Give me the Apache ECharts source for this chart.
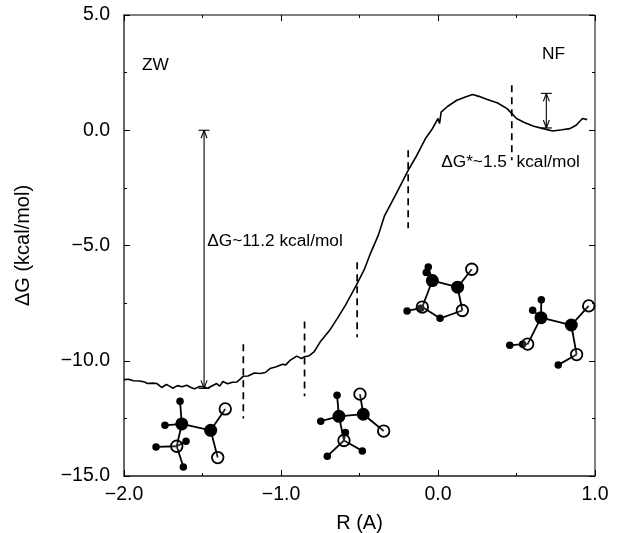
<!DOCTYPE html>
<html><head><meta charset="utf-8">
<script src="https://cdn.jsdelivr.net/npm/echarts@6/dist/echarts.min.js"></script>
<style>html,body{margin:0;padding:0;background:#fff}#c{width:621px;height:533px}</style>
</head><body><div id="c"></div>
<script>
const curveR = [-2.0,-1.97,-1.94,-1.9,-1.87,-1.85,-1.82,-1.79,-1.76,-1.73,-1.71,-1.69,-1.66,-1.63,-1.6,-1.57,-1.55,-1.52,-1.49,-1.47,-1.45,-1.41,-1.39,-1.37,-1.34,-1.31,-1.28,-1.26,-1.24,-1.21,-1.17,-1.13,-1.10,-1.07,-1.03,-0.99,-0.97,-0.94,-0.90,-0.87,-0.85,-0.82,-0.79,-0.75,-0.69,-0.64,-0.59,-0.52,-0.47,-0.43,-0.38,-0.34,-0.27,-0.19,-0.14,-0.08,-0.04,0.0,0.01,0.02,0.06,0.12,0.17,0.22,0.26,0.31,0.38,0.44,0.50,0.55,0.61,0.67,0.73,0.79,0.84,0.88,0.92,0.95];
const curveG = [-10.82,-10.8,-10.87,-10.88,-10.92,-10.99,-10.97,-10.99,-11.16,-11.03,-11.1,-11.19,-11.08,-11.13,-11.06,-11.17,-11.22,-11.12,-11.13,-11.2,-11.13,-10.99,-11.1,-10.9,-11.0,-10.93,-10.92,-10.8,-10.67,-10.66,-10.53,-10.55,-10.51,-10.34,-10.26,-10.15,-10.18,-9.97,-9.8,-9.9,-9.83,-9.78,-9.62,-9.18,-8.68,-8.15,-7.6,-6.72,-6.05,-5.34,-4.55,-3.7,-2.8,-1.74,-1.15,-0.36,0.02,0.51,0.29,0.79,1.03,1.3,1.43,1.55,1.47,1.34,1.18,0.94,0.51,0.34,0.17,0.07,-0.03,0.02,0.07,0.22,0.51,0.46];

const dashR = [-1.24,-0.85,-0.515,-0.19,0.47];
const dashTop = [-9.28,-8.3,-5.73,-0.87,1.95];
const dashBottom = [-12.5,-11.54,-8.98,-4.25,-1.3];

const arrowR = [-1.49,0.69];
const arrowTop = [0,1.6];
const arrowBottom = [-11.2,0.1];

const carbons = [[-1.632,-12.74],[-1.448,-13.02],[-0.631,-12.41],[-0.476,-12.32],[-0.036,-6.52],[0.125,-6.81],[0.656,-8.13],[0.849,-8.45]];
const oxyNitro = [[-1.355,-12.09],[-1.403,-14.2],[-1.664,-13.71],[-0.497,-11.45],[-0.346,-13.05],[-0.599,-13.46],[0.215,-6.03],[0.155,-7.82],[-0.1,-7.67],[0.96,-7.62],[0.883,-9.73],[0.571,-9.28]];
const hydrogens = [[-1.643,-11.76],[-1.739,-12.8],[-1.605,-13.49],[-1.796,-13.74],[-1.622,-14.61],[-0.643,-11.5],[-0.747,-12.62],[-0.59,-13.11],[-0.705,-14.14],[-0.482,-13.91],[-0.062,-5.93],[-0.075,-6.17],[-0.11,-7.72],[-0.197,-7.84],[0.013,-8.16],[0.658,-7.35],[0.603,-7.81],[0.539,-9.28],[0.457,-9.33],[0.766,-10.18]];
const bonds = [
 [carbons[0],carbons[1]],[carbons[1],oxyNitro[0]],[carbons[1],oxyNitro[1]],[carbons[0],hydrogens[0]],[carbons[0],hydrogens[1]],[carbons[0],oxyNitro[2]],[oxyNitro[2],hydrogens[2]],[oxyNitro[2],hydrogens[3]],[oxyNitro[2],hydrogens[4]],
 [carbons[2],carbons[3]],[carbons[3],oxyNitro[3]],[carbons[3],oxyNitro[4]],[carbons[2],hydrogens[5]],[carbons[2],hydrogens[6]],[carbons[2],oxyNitro[5]],[oxyNitro[5],hydrogens[7]],[oxyNitro[5],hydrogens[8]],[oxyNitro[5],hydrogens[9]],
 [carbons[4],carbons[5]],[carbons[5],oxyNitro[6]],[carbons[5],oxyNitro[7]],[carbons[4],hydrogens[10]],[carbons[4],hydrogens[11]],[carbons[4],oxyNitro[8]],[oxyNitro[8],hydrogens[12]],[hydrogens[12],hydrogens[13]],[oxyNitro[8],hydrogens[14]],[hydrogens[14],oxyNitro[7]],
 [carbons[6],carbons[7]],[carbons[7],oxyNitro[9]],[carbons[7],oxyNitro[10]],[carbons[6],hydrogens[15]],[carbons[6],hydrogens[16]],[carbons[6],oxyNitro[11]],[oxyNitro[11],hydrogens[17]],[hydrogens[17],hydrogens[18]],[oxyNitro[10],hydrogens[19]]
];

const noteText = ['ZW','NF','\u0394G~11.2 kcal/mol','\u0394G*~1.5  kcal/mol'];
const noteR = [-1.885,0.662,-1.47,0.02];
const noteG = [2.82,3.3,-4.8,-1.39];

const fmt = v => v.toFixed(1).replace('-', '\u2212');
const font = '"Liberation Sans", Arial, sans-serif';
const hiddenAxisBits = {axisLabel:{show:false},splitLine:{show:false},axisLine:{show:false,onZero:false}};
const tick = {show:true,inside:true,length:6,lineStyle:{color:'#000',width:1}};
const minor = {show:true,splitNumber:2,length:3,lineStyle:{color:'#000',width:1}};

function lineItem(p, a, b, style){
  return {type:'line',shape:{x1:a[0],y1:a[1],x2:b[0],y2:b[1]},style:style};
}
const series = [
 {type:'line',xAxisIndex:0,yAxisIndex:0,data:curveR.map((r,i)=>[r,curveG[i]]),showSymbol:false,symbol:'none',smooth:false,
  lineStyle:{color:'#000',width:1.6},z:3,silent:true},
 {type:'custom',xAxisIndex:0,yAxisIndex:0,coordinateSystem:'cartesian2d',data:dashR.map((r,i)=>[r,dashTop[i],dashBottom[i]]),z:3,silent:true,
  encode:{x:0,y:[1,2]},
  renderItem(p,api){
    const a=api.coord([api.value(0),api.value(1)]),b=api.coord([api.value(0),api.value(2)]);
    return lineItem(p,a,b,{stroke:'#000',lineWidth:1.7,lineDash:[7,5],fill:null});
  }},
 {type:'custom',xAxisIndex:0,yAxisIndex:0,coordinateSystem:'cartesian2d',data:arrowR.map((r,i)=>[r,arrowTop[i],arrowBottom[i]]),z:3,silent:true,
  encode:{x:0,y:[1,2]},
  renderItem(p,api){
    const a=api.coord([api.value(0),api.value(1)]),b=api.coord([api.value(0),api.value(2)]);
    const s={stroke:'#000',lineWidth:1.1,fill:null};
    const x=a[0];
    return {type:'group',children:[
      lineItem(p,a,b,s),
      lineItem(p,[x-5.5,a[1]],[x+5.5,a[1]],s),
      lineItem(p,[x-5.5,b[1]],[x+5.5,b[1]],s),
      lineItem(p,a,[x-3,a[1]+8],s),lineItem(p,a,[x+3,a[1]+8],s),
      lineItem(p,b,[x-3,b[1]-8],s),lineItem(p,b,[x+3,b[1]-8],s)
    ]};
  }},
 {type:'custom',xAxisIndex:0,yAxisIndex:0,coordinateSystem:'cartesian2d',data:bonds.map(b=>[b[0][0],b[0][1],b[1][0],b[1][1]]),z:4,silent:true,
  encode:{x:[0,2],y:[1,3]},
  renderItem(p,api){
    const a=api.coord([api.value(0),api.value(1)]),b=api.coord([api.value(2),api.value(3)]);
    return lineItem(p,a,b,{stroke:'#000',lineWidth:1.8,fill:null});
  }},
 {type:'scatter',xAxisIndex:0,yAxisIndex:0,data:carbons,symbolSize:13,itemStyle:{color:'#000',opacity:1},z:5,silent:true},
 {type:'scatter',xAxisIndex:0,yAxisIndex:0,data:hydrogens,symbolSize:7.5,itemStyle:{color:'#000',opacity:1},z:5,silent:true},
 {type:'scatter',xAxisIndex:0,yAxisIndex:0,data:oxyNitro,symbolSize:11.5,itemStyle:{color:'rgba(255,255,255,0.15)',borderColor:'#000',borderWidth:1.8,opacity:1},z:6,silent:true},
 {type:'scatter',xAxisIndex:0,yAxisIndex:0,data:noteText.map((t,i)=>({value:[noteR[i],noteG[i]],label:{formatter:t}})),symbolSize:0,z:7,silent:true,
  itemStyle:{opacity:1},
  label:{show:true,position:'right',distance:0,color:'#000',opacity:1,fontFamily:font,fontSize:17.3}}
];

const chart = echarts.init(document.getElementById('c'),null,{renderer:'canvas'});
chart.setOption({
 animation:false,
 backgroundColor:'#fff',
 grid:{left:124,top:15,width:471,height:461,outerBoundsMode:'none',containLabel:false,show:true,borderColor:'#000',borderWidth:1,backgroundColor:'transparent'},
 xAxis:[
  {type:'value',min:-2,max:1,interval:1,position:'bottom',name:'R (A)',nameLocation:'middle',nameGap:37,
   nameTextStyle:{fontFamily:font,fontSize:20,color:'#000'},
   axisLine:{show:true,onZero:false,lineStyle:{color:'#444',width:1.5}},
   axisTick:tick,minorTick:minor,splitLine:{show:false},
   axisLabel:{formatter:fmt,fontFamily:font,fontSize:19.5,color:'#000',margin:9,showMinLabel:true,showMaxLabel:true}},
  Object.assign({type:'value',min:-2,max:1,interval:1,position:'top',axisTick:tick,minorTick:minor},hiddenAxisBits)
 ],
 yAxis:[
  {type:'value',min:-15,max:5,interval:5,position:'left',name:'\u0394G (kcal/mol)',nameLocation:'middle',nameGap:91,nameRotate:90,
   nameTextStyle:{fontFamily:font,fontSize:20,color:'#000'},
   axisLine:{show:true,onZero:false,lineStyle:{color:'#666',width:2}},
   axisTick:tick,minorTick:minor,splitLine:{show:false},
   axisLabel:{formatter:fmt,fontFamily:font,fontSize:19.5,color:'#000',margin:14,showMinLabel:true,showMaxLabel:true}},
  Object.assign({type:'value',min:-15,max:5,interval:5,position:'right',axisTick:tick,minorTick:minor},hiddenAxisBits)
 ],
 series:series
});
</script></body></html>
